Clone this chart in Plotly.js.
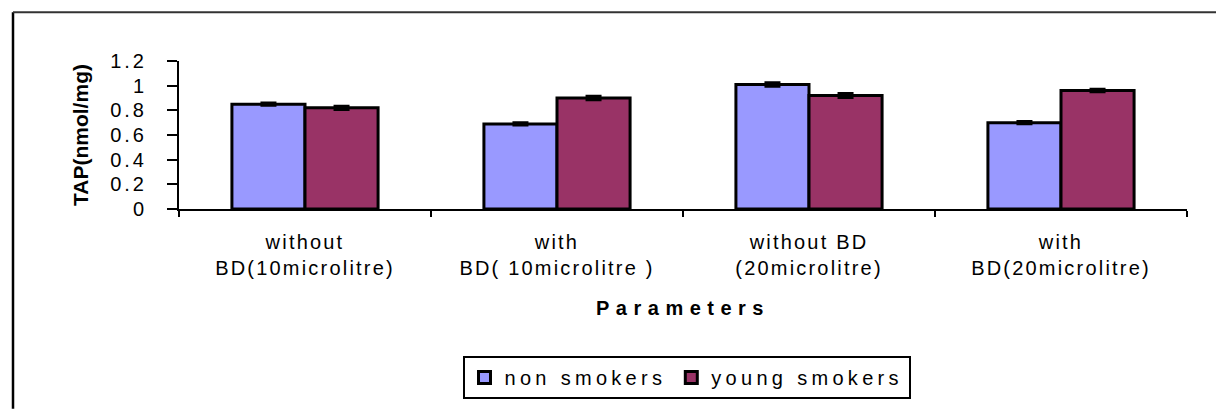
<!DOCTYPE html>
<html>
<head>
<meta charset="utf-8">
<script src="https://cdn.plot.ly/plotly-3.0.1.min.js"></script>
<style>
  html, body { margin: 0; padding: 0; background: #fff; }
  #chart { width: 1216px; height: 409px; }
  .xtick text { letter-spacing: 2.2px; }
  .ytick text { letter-spacing: 3px; }
  .legendtext { letter-spacing: 4.3px; }
  .g-xtitle text { letter-spacing: 6.5px; }
</style>
</head>
<body>
<div id="chart"></div>
<script>
// ---- data ----
const categories = [
  "without<br>BD(10microlitre)",
  "with<br>BD( 10microlitre )",
  "without BD<br>(20microlitre)",
  "with<br>BD(20microlitre)"
];
const seriesNames = ["non smokers", "young smokers"];
const nonSmokers = [0.85, 0.69, 1.01, 0.70];
const youngSmokers = [0.82, 0.90, 0.92, 0.96];
const nonSmokersErr = [0.005, 0.005, 0.01, 0.005];
const youngSmokersErr = [0.01, 0.01, 0.012, 0.006];
const yTickVals = [0, 0.2, 0.4, 0.6, 0.8, 1, 1.2];
const yTickText = ["0", "0.2", "0.4", "0.6", "0.8", "1", "1.2"];

// ---- layout constants ----
const W = 1216, H = 409;
const M = {l: 179, r: 29, t: 61, b: 199};
const pw = W - M.l - M.r, ph = H - M.t - M.b;
const px2x = p => (p - M.l) / pw;
const px2y = p => (H - M.b - p) / ph;

const font = "Liberation Sans, Arial, Helvetica, sans-serif";

const traces = [
  {
    type: "bar", name: seriesNames[0], x: categories, y: nonSmokers,
    marker: {color: "#9999FF", line: {color: "#000", width: 3}},
    error_y: {type: "data", array: nonSmokersErr, visible: true, color: "#000", thickness: 4, width: 8}
  },
  {
    type: "bar", name: seriesNames[1], x: categories, y: youngSmokers,
    marker: {color: "#993366", line: {color: "#000", width: 3}},
    error_y: {type: "data", array: youngSmokersErr, visible: true, color: "#000", thickness: 4, width: 8}
  }
];

const layout = {
  width: W, height: H,
  margin: M,
  paper_bgcolor: "#fff", plot_bgcolor: "#fff",
  font: {family: font, color: "#000", size: 19},
  barmode: "group", bargap: 0.42, bargroupgap: 0,
  showlegend: true,
  xaxis: {
    type: "category",
    showline: true, linecolor: "#000", linewidth: 2,
    ticks: "outside", tickson: "boundaries", ticklen: 6, tickwidth: 2, tickcolor: "#000",
    tickfont: {size: 20, family: font, color: "#000"},
    ticklabelstandoff: 14,
    showgrid: false, zeroline: false, automargin: false,
    title: {text: "Parameters", font: {size: 20, family: font, weight: "bold", color: "#000"}, standoff: 23}
  },
  yaxis: {
    range: [0, 1.2], tickvals: yTickVals, ticktext: yTickText,
    showline: true, linecolor: "#000", linewidth: 2,
    ticks: "outside", ticklen: 10, tickwidth: 2, tickcolor: "#000",
    tickfont: {size: 20, family: font, color: "#000"},
    ticklabelstandoff: 16,
    showgrid: false, zeroline: false, automargin: false,
    title: {text: "TAP(nmol/mg)", font: {size: 21, family: font, weight: "bold", color: "#000"}, standoff: 16}
  },
  legend: {
    orientation: "h",
    x: px2x(686.5), xanchor: "center",
    y: px2y(356), yanchor: "top",
    bordercolor: "#000", borderwidth: 2, bgcolor: "#fff",
    font: {size: 20, family: font, color: "#000"},
    itemwidth: 30
  },
  shapes: [
    {type: "line", xref: "paper", yref: "paper", x0: px2x(13), x1: px2x(13), y0: px2y(12), y1: px2y(H + 2),
     line: {color: "#000", width: 2.5}},
    {type: "line", xref: "paper", yref: "paper", x0: px2x(13), x1: px2x(W + 2), y0: px2y(12), y1: px2y(12),
     line: {color: "#333", width: 2}}
  ]
};

Plotly.newPlot("chart", traces, layout, {displayModeBar: false, staticPlot: true});
</script>
</body>
</html>
